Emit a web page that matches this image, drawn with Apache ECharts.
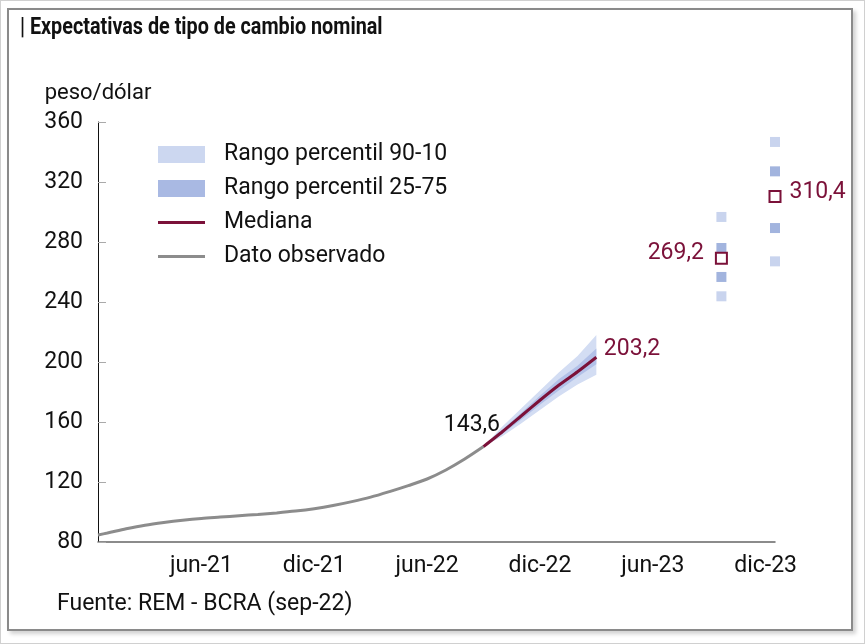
<!DOCTYPE html>
<html><head><meta charset="utf-8">
<script src="https://cdn.jsdelivr.net/npm/echarts@6/dist/echarts.min.js"></script>
<style>
html,body{margin:0;padding:0;background:#fff;}
#wrap{position:absolute;left:0;top:0;width:863px;height:642px;border:1px solid #d0d0d0;}
#panel{position:absolute;left:7px;top:8px;width:842px;height:619px;border:2px solid #8a8a8a;box-shadow:3px 3px 4px rgba(0,0,0,0.18);background:#fff;}
#chart{position:absolute;left:0;top:0;width:865px;height:644px;}
</style></head><body>
<div id="wrap"></div><div id="panel"></div><div id="chart"></div>
<script>
// Month categories (axis slots), Jan-21 .. Dec-23
const monthLabels = ['ene-21','feb-21','mar-21','abr-21','may-21','jun-21','jul-21','ago-21','sep-21','oct-21','nov-21','dic-21',
  'ene-22','feb-22','mar-22','abr-22','may-22','jun-22','jul-22','ago-22','sep-22','oct-22','nov-22','dic-22',
  'ene-23','feb-23','mar-23','abr-23','may-23','jun-23','jul-23','ago-23','sep-23','oct-23','nov-23','dic-23'];
const yTicks = [80, 120, 160, 200, 240, 280, 320, 360];

// Observed data (months since 1-Jan-21)
const obsX = [0, 0.5, 1.5, 2.5, 3.5, 4.5, 5.5, 6.5, 7.5, 8.5, 9.5, 10.5, 11.5, 12.5, 13.5, 14.5, 15.5, 16.5, 17.5, 18.5, 19.5, 20.5];
const obsY = [84.7, 86.0, 88.8, 91.2, 93.0, 94.5, 95.7, 96.6, 97.5, 98.4, 99.4, 100.6, 102.2, 104.3, 106.9, 109.9, 113.6, 117.6, 122.0, 128.0, 135.3, 143.6];

// Monthly REM expectations Sep-22 .. Mar-23
const fcX = [20.5, 21.5, 22.5, 23.5, 24.5, 25.5, 26.5];
const fcMedian = [143.6, 153.5, 164.0, 174.5, 184.5, 193.5, 203.2];
const fcP10 = [143.6, 150.5, 159.0, 168.0, 177.0, 185.0, 191.5];
const fcP25 = [143.6, 152.0, 161.5, 171.5, 181.0, 190.0, 198.5];
const fcP75 = [143.6, 155.0, 166.0, 177.5, 188.5, 197.5, 209.0];
const fcP90 = [143.6, 157.0, 169.0, 181.0, 193.0, 204.0, 218.0];

// Next 12 months and end-2023 expectations
const ptX = [33.15, 36];
const ptMedian = [269.2, 310.4];
const ptP10 = [243.8, 267.1];
const ptP25 = [256.7, 289.3];
const ptP75 = [276.0, 327.1];
const ptP90 = [296.7, 346.7];

const C_LIGHT = '#d3ddf3', C_DARK = '#b2c1e8', C_LIGHT_PT = '#c9d4ee', C_DARK_PT = '#a2b4de';
const C_MED = '#7b1139', C_OBS = '#8c8c8c';
const FONT = 'Roboto';
const FS = 23;
const fmt = v => v.toFixed(1).replace('.', ',');
const pairs = (xs, ys) => xs.map((x, i) => [x, ys[i]]);
const tickFn = (idx) => idx % 6 === 5;
const lineIcon = 'path://M0,0H47V3H0Z';

function bandSeries(name, lo, hi, color) {
  return {
    name: name, type: 'custom', xAxisIndex: 1, silent: true,
    data: fcX.map((x, i) => [x, lo[i], hi[i]]),
    encode: {x: 0, y: [1, 2]},
    itemStyle: {color: color},
    renderItem: function (params, api) {
      if (params.dataIndexInside !== 0) return null;
      const n = params.dataInsideLength;
      const top = [], bot = [];
      for (let j = 0; j < n; j++) {
        top.push(api.coord([api.value(0, j), api.value(2, j)]));
        bot.unshift(api.coord([api.value(0, j), api.value(1, j)]));
      }
      return {type: 'polygon', shape: {points: top.concat(bot)}, style: {fill: color}};
    }
  };
}

const chart = echarts.init(document.getElementById('chart'), null, {renderer: 'canvas'});
chart.setOption({
  animation: false,
  grid: {left: 98, right: 90, top: 122, bottom: 102},
  legend: {
    orient: 'vertical', left: 158, top: 143, padding: 0, itemWidth: 47, itemHeight: 17, itemGap: 11,
    symbolKeepAspect: true,
    textStyle: {fontFamily: FONT, fontSize: FS, color: '#111', padding: [0, 0, 0, 14]},
    data: [
      {name: 'Rango percentil 90-10', icon: 'rect', itemStyle: {color: '#ccd7f0'}},
      {name: 'Rango percentil 25-75', icon: 'rect', itemStyle: {color: '#a9b9e3'}},
      {name: 'Mediana', icon: lineIcon, symbolKeepAspect: true, itemStyle: {color: C_MED}},
      {name: 'Dato observado', icon: lineIcon, symbolKeepAspect: true, itemStyle: {color: C_OBS}}
    ]
  },
  xAxis: [
    {type: 'category', data: monthLabels, boundaryGap: true,
     axisLine: {lineStyle: {color: '#666', width: 1.5}},
     axisTick: {inside: true, length: 9, alignWithLabel: true, interval: tickFn, lineStyle: {color: '#999'}},
     axisLabel: {interval: tickFn, fontFamily: FONT, fontSize: FS, color: '#111', margin: 13},
     splitLine: {show: false}},
    {type: 'value', min: 0, max: 36, show: false}
  ],
  yAxis: {
    type: 'value', min: yTicks[0], max: yTicks[yTicks.length - 1], interval: 40,
    name: 'peso/dólar', nameLocation: 'end', nameGap: 29,
    nameTextStyle: {fontFamily: FONT, fontSize: 22, color: '#111', align: 'center', verticalAlign: 'middle'},
    axisLine: {show: true, lineStyle: {color: '#111', width: 1}},
    axisTick: {show: true, inside: true, length: 8, lineStyle: {color: '#aaa'}},
    axisLabel: {fontFamily: FONT, fontSize: FS, color: '#111', margin: 15},
    splitLine: {show: false}
  },
  series: [
    bandSeries('Rango percentil 90-10', fcP10, fcP90, C_LIGHT),
    bandSeries('Rango percentil 25-75', fcP25, fcP75, C_DARK),
    {name: 'Dato observado', type: 'line', xAxisIndex: 1, symbol: 'none', smooth: 0.3, color: C_OBS,
     lineStyle: {color: C_OBS, width: 3}, data: pairs(obsX, obsY)},
    {name: 'Mediana', type: 'line', xAxisIndex: 1, symbol: 'none', smooth: 0.2, color: C_MED,
     lineStyle: {color: C_MED, width: 3}, data: pairs(fcX, fcMedian)},
    {name: 'Rango percentil 90-10', type: 'scatter', xAxisIndex: 1, symbol: 'rect', symbolSize: 10, clip: false,
     itemStyle: {color: C_LIGHT_PT, opacity: 1}, data: pairs(ptX, ptP10).concat(pairs(ptX, ptP90))},
    {name: 'Rango percentil 25-75', type: 'scatter', xAxisIndex: 1, symbol: 'rect', symbolSize: 10, clip: false,
     itemStyle: {color: C_DARK_PT, opacity: 1}, data: pairs(ptX, ptP25).concat(pairs(ptX, ptP75))},
    {name: 'Mediana', type: 'scatter', xAxisIndex: 1, symbol: 'rect', symbolSize: 11, clip: false,
     itemStyle: {color: '#fff', borderColor: C_MED, borderWidth: 2, opacity: 1},
     label: {show: true, formatter: p => fmt(p.value[1]), fontFamily: FONT, fontSize: FS, color: C_MED},
     data: [
       {value: [ptX[0], ptMedian[0]], label: {position: 'left', offset: [-6, -5]}},
       {value: [ptX[1], ptMedian[1]], label: {position: 'right', offset: [3, -4]}}
     ]},
    // value labels for the end of the observed series and the monthly median
    {name: '_labels', type: 'scatter', xAxisIndex: 1, symbolSize: 1, silent: true, clip: false,
     itemStyle: {color: 'rgba(0,0,0,0)', opacity: 1},
     label: {show: true, formatter: p => fmt(p.value[1]), fontFamily: FONT, fontSize: FS},
     data: [
       {value: [obsX[obsX.length - 1], obsY[obsY.length - 1]],
        label: {position: 'left', offset: [22, -21], color: '#111'}},
       {value: [fcX[fcX.length - 1], fcMedian[fcMedian.length - 1]],
        label: {position: 'right', offset: [2, -8], color: C_MED}}
     ]}
  ],
  graphic: [
    {type: 'text', left: 20, top: 17, scaleX: 0.86, originX: 0,
     style: {text: '| Expectativas de tipo de cambio nominal', font: 'bold 23px Roboto', fill: '#111'}},
    {type: 'text', left: 57, top: 593, style: {text: 'Fuente: REM - BCRA (sep-22)',
      font: FS + 'px Roboto', fill: '#111'}}
  ]
});
</script></body></html>
